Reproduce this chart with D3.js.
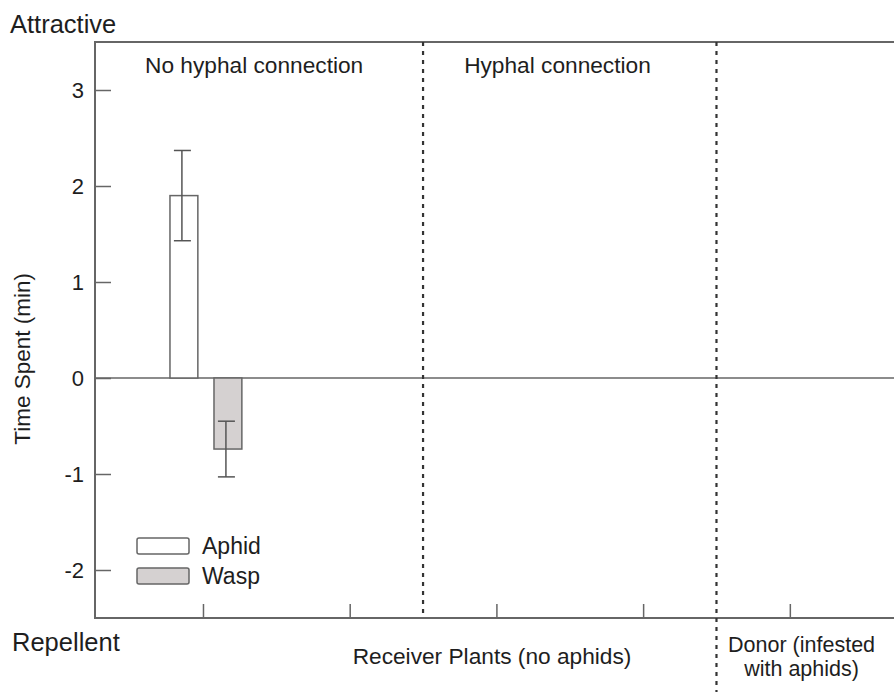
<!DOCTYPE html>
<html>
<head>
<meta charset="utf-8">
<script src="https://cdn.jsdelivr.net/npm/d3@7"></script>
<style>
  body { margin: 0; background: #fff; }
  text { font-family: "Liberation Sans", Arial, sans-serif; fill: #1e1e1e; }
</style>
</head>
<body>
<div id="chart"></div>
<script>
// categories along the x axis (5 tick slots), only the first one has data
var categories = [0, 1, 2, 3, 4];
var series = ["Aphid", "Wasp"];
var aphidMean = [1.9];
var aphidErr  = [0.47];
var waspMean  = [-0.74];
var waspErr   = [0.29];
var yTicks = [-2, -1, 0, 1, 2, 3];
var dividers = [1.5, 3.5];

var W = 894, H = 692;
var svg = d3.select("#chart").append("svg")
    .attr("width", W).attr("height", H);

var x = d3.scaleLinear().domain([-0.736, 4.71]).range([95, 894]);
var y = d3.scaleLinear().domain([-2.5, 3.5]).range([618, 42]);

var lineCol = "#666";

// y axis, ticks pointing inward
var yAxis = d3.axisRight(y).tickValues(yTicks).tickSize(16).tickFormat("");
var gy = svg.append("g").attr("transform", "translate(95,0)").call(yAxis);
gy.select(".domain").remove();
gy.selectAll("line").attr("stroke", lineCol).attr("stroke-width", 1.5);

svg.selectAll(".ylab").data(yTicks).enter().append("text")
    .attr("x", 84).attr("y", function(d) { return y(d) + 8; })
    .attr("text-anchor", "end").style("font-size", "22px")
    .text(function(d) { return d; });

// x axis, ticks pointing up
var xAxis = d3.axisTop(x).tickValues(categories).tickSize(14).tickFormat("");
var gx = svg.append("g").attr("transform", "translate(0," + y(-2.5) + ")").call(xAxis);
gx.select(".domain").remove();
gx.selectAll("line").attr("stroke", lineCol).attr("stroke-width", 1.5);

// frame: left, top, bottom
svg.append("path")
    .attr("d", "M" + W + "," + y(3.5) + "H" + x(-0.736) + "V" + y(-2.5) + "H" + W)
    .attr("fill", "none").attr("stroke", lineCol).attr("stroke-width", 2);

// zero line
svg.append("line")
    .attr("x1", x(-0.736)).attr("x2", W)
    .attr("y1", y(0)).attr("y2", y(0))
    .attr("stroke", lineCol).attr("stroke-width", 1.5);

// dashed dividers
svg.selectAll(".div").data(dividers).enter().append("line")
    .attr("x1", function(d) { return x(d); })
    .attr("x2", function(d) { return x(d); })
    .attr("y1", y(3.5))
    .attr("y2", function(d, i) { return i == 0 ? y(-2.5) : H; })
    .attr("stroke", "#333").attr("stroke-width", 2.2)
    .attr("stroke-dasharray", "4,5");

// bars
var barW = 0.19;
function drawBars(means, errs, offset, fill) {
    var bw = x(barW) - x(0);
    svg.selectAll(null).data(means).enter().append("rect")
        .attr("x", function(d, i) { return x(categories[i] + offset) - bw / 2; })
        .attr("y", function(d) { return y(Math.max(0, d)); })
        .attr("width", bw)
        .attr("height", function(d) { return Math.abs(y(d) - y(0)); })
        .attr("fill", fill).attr("stroke", lineCol).attr("stroke-width", 1.5);

    var eb = svg.selectAll(null).data(means).enter().append("g");
    eb.append("line")
        .attr("x1", function(d, i) { return x(categories[i] + offset) - 2; })
        .attr("x2", function(d, i) { return x(categories[i] + offset) - 2; })
        .attr("y1", function(d, i) { return y(d + errs[i]); })
        .attr("y2", function(d, i) { return y(d - errs[i]); });
    [1, -1].forEach(function(s) {
        eb.append("line")
            .attr("x1", function(d, i) { return x(categories[i] + offset) - 10; })
            .attr("x2", function(d, i) { return x(categories[i] + offset) + 7; })
            .attr("y1", function(d, i) { return y(d + s * errs[i]); })
            .attr("y2", function(d, i) { return y(d + s * errs[i]); });
    });
    eb.selectAll("line").attr("stroke", "#555").attr("stroke-width", 1.5);
}
drawBars(aphidMean, aphidErr, -0.13, "#fff");
drawBars(waspMean, waspErr, 0.17, "#d5d1d1");

// legend
var legFill = ["#fff", "#d5d1d1"];
var leg = svg.selectAll(".leg").data(series).enter().append("g")
    .attr("transform", function(d, i) { return "translate(137," + (538 + i * 30) + ")"; });
leg.append("rect").attr("width", 52).attr("height", 16).attr("rx", 2)
    .attr("fill", function(d, i) { return legFill[i]; })
    .attr("stroke", lineCol).attr("stroke-width", 1.5);
leg.append("text").attr("x", 65).attr("y", 16).style("font-size", "23px")
    .text(function(d) { return d; });

// panel and side labels
svg.append("text").attr("x", 10).attr("y", 33).style("font-size", "25.5px").text("Attractive");
svg.append("text").attr("x", 12).attr("y", 651).style("font-size", "25.5px").text("Repellent");
svg.append("text").attr("x", x(-0.395)).attr("y", 73).style("font-size", "22.7px").text("No hyphal connection");
svg.append("text").attr("x", x(1.78)).attr("y", 73).style("font-size", "22.7px").text("Hyphal connection");
svg.append("text").attr("x", x(1.97)).attr("y", 664).attr("text-anchor", "middle")
    .style("font-size", "22.7px").text("Receiver Plants (no aphids)");
var donor = svg.append("text").attr("x", x(4.08)).attr("y", 652).attr("text-anchor", "middle")
    .style("font-size", "21.5px");
donor.append("tspan").attr("x", x(4.08)).text("Donor (infested");
donor.append("tspan").attr("x", x(4.08)).attr("dy", 24).text("with aphids)");

svg.append("text")
    .attr("transform", "translate(30," + y(0.2) + ") rotate(-90)")
    .attr("text-anchor", "middle").style("font-size", "22.5px")
    .text("Time Spent (min)");
</script>
</body>
</html>
